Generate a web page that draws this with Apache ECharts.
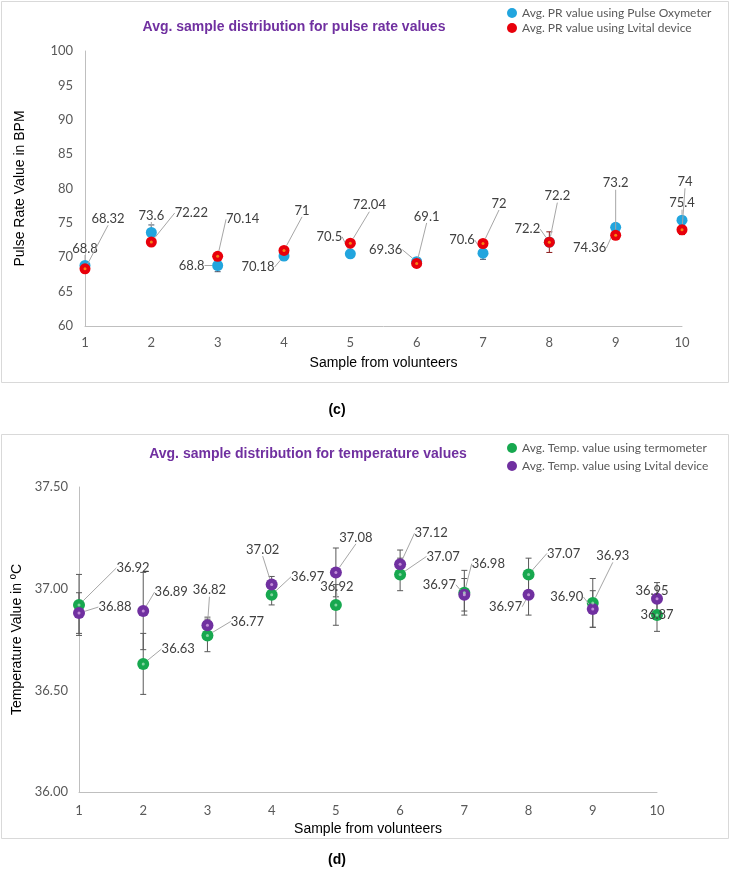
<!DOCTYPE html>
<html><head><meta charset="utf-8">
<script src="https://cdn.jsdelivr.net/npm/echarts@6/dist/echarts.min.js"></script>
<style>html,body{margin:0;padding:0;background:#fff}#c{width:738px;height:873px}</style>
</head><body><div id="c"></div>
<script>
// ---- data ----
const samples = [1,2,3,4,5,6,7,8,9,10];
const prOximeter = [68.8,73.6,68.8,70.18,70.5,69.36,70.6,72.2,74.36,75.4];
const prLvital = [68.32,72.22,70.14,71,72.04,69.1,72,72.2,73.2,74];
const prOximeterErr = [0.5,1.1,0.9,0.6,0.4,0.5,0.9,0.6,0.5,0.5];
const prLvitalErr = [0.3,0.3,0.3,0.5,0.3,0.3,0.4,1.5,0.4,0.7];
const tempThermo = [36.92,36.63,36.77,36.97,36.92,37.07,36.98,37.07,36.93,36.87];
const tempLvital = [36.88,36.89,36.82,37.02,37.08,37.12,36.97,36.97,36.90,36.95];
const tempThermoErr = [0.15,0.15,0.08,0.05,0.10,0.08,0.11,0.08,0.12,0.08];
const tempLvitalErr = [0.10,0.19,0.04,0.04,0.12,0.07,0.08,0.10,0.09,0.08];
const prNames = ['Avg. PR value using Pulse Oxymeter','Avg. PR value using Lvital device'];
const tempNames = ['Avg. Temp. value using termometer','Avg. Temp. value using Lvital device'];

// ---- label offsets (layout only) ----
const prOxOff = [[0,-17],[0,-17],[-26,0],[-26,11],[-21,-17],[-31,-12],[-21,-13],[-22,-13],[-26,21],[0,-17]];
const prLvOff = [[23,-50],[40,-29],[25,-37],[18,-40],[19,-38],[10,-47],[16,-40],[8,-46],[0,-52],[3,-48]];
const tThOff = [[54,-37],[35,-15],[40,-14],[36,-18],[1,-18],[43,-18],[24,-29],[35,-21],[20,-47],[0,0]];
const tLvOff = [[36,-6],[28,-19],[2,-35],[-9,-35],[20,-35],[31,-31],[-25,-10],[-23,12],[-26,-12],[-5,-8]];

const labelFont = 'Lato';
function pts(vals){ return vals.map((v,i)=>[samples[i], v]); }

function scatter(name, xi, vals, color, size, off, fmt, z){
  return {
    name, type:'scatter', xAxisIndex:xi, yAxisIndex:xi, z,
    symbolSize:size, itemStyle:{color, opacity:1},
    data: pts(vals),
    label:{show:true, position:'inside', align:'center', verticalAlign:'middle',
      color:'#404040', fontFamily:labelFont, fontSize:13,
      formatter: p => fmt(p.value[1])},
    labelLine:{show:true, lineStyle:{color:'#A6A6A6', width:1}},
    labelLayout: p => ({dx: off[p.dataIndex][0], dy: off[p.dataIndex][1]}),
    emphasis:{disabled:true}
  };
}
function dots(xi, vals, color, z){
  return {type:'scatter', xAxisIndex:xi, yAxisIndex:xi, z, silent:true,
    symbolSize:3, itemStyle:{color}, data: pts(vals), emphasis:{disabled:true}};
}
function errSeries(xi, vals, errs, color, cap){
  return {type:'custom', xAxisIndex:xi, yAxisIndex:xi, silent:true, z:1,
    data: vals.map((v,i)=>[samples[i], v-errs[i], v+errs[i]]),
    encode:{x:0, y:[1,2]},
    renderItem:(params, api)=>{
      const lo = api.coord([api.value(0), api.value(1)]);
      const hi = api.coord([api.value(0), api.value(2)]);
      const h = cap/2, st = {stroke:color, lineWidth:1};
      return {type:'group', children:[
        {type:'line', shape:{x1:lo[0],y1:lo[1],x2:hi[0],y2:hi[1]}, style:st},
        {type:'line', shape:{x1:lo[0]-h,y1:lo[1],x2:lo[0]+h,y2:lo[1]}, style:st},
        {type:'line', shape:{x1:hi[0]-h,y1:hi[1],x2:hi[0]+h,y2:hi[1]}, style:st}
      ]};
    }};
}
const axisLine = {show:true, lineStyle:{color:'#BFBFBF', width:1}};
const axLabel = {color:'#595959', fontFamily:labelFont, fontSize:13};
function xAxis(gi, margin){
  return {type:'value', gridIndex:gi, min:1, max:10, interval:1,
    axisLine, axisTick:{show:false}, splitLine:{show:false},
    axisLabel:Object.assign({margin}, axLabel),
    name:'Sample from volunteers', nameLocation:'middle', nameGap:30,
    nameTextStyle:{color:'#000', fontFamily:'Liberation Sans', fontSize:14}};
}

const chart = echarts.init(document.getElementById('c'));
chart.setOption({
  animation:false,
  backgroundColor:'#fff',
  grid:[
    {left:85, top:51, right:56, bottom:547},
    {left:79, top:487, right:81, bottom:81}
  ],
  xAxis:[xAxis(0,10), xAxis(1,12)],
  yAxis:[
    {type:'value', gridIndex:0, min:60, max:100, interval:5,
      axisLine, axisTick:{show:false}, splitLine:{show:false},
      axisLabel:Object.assign({margin:12}, axLabel),
      name:'Pulse Rate Value in BPM', nameLocation:'middle', nameGap:58,
      nameTextStyle:{color:'#000', fontFamily:'Liberation Sans', fontSize:14}},
    {type:'value', gridIndex:1, min:36, max:37.5, interval:0.5,
      axisLine, axisTick:{show:false}, splitLine:{show:false},
      axisLabel:Object.assign({margin:11, formatter:v=>v.toFixed(2)}, axLabel),
      name:'Temperature Value in ºC', nameLocation:'middle', nameGap:45,
      nameTextStyle:{color:'#000', fontFamily:'Liberation Sans', fontSize:14}}
  ],
  legend:[
    {data:prNames, left:507, top:7, orient:'vertical', itemGap:3, icon:'circle',
      itemWidth:10, itemHeight:10, padding:0,
      textStyle:{color:'#595959', fontFamily:labelFont, fontSize:12}},
    {data:tempNames, left:507, top:442, orient:'vertical', itemGap:6, icon:'circle',
      itemWidth:10, itemHeight:10, padding:0,
      textStyle:{color:'#595959', fontFamily:labelFont, fontSize:12}}
  ],
  graphic:[
    {type:'rect', shape:{x:1.5, y:1.5, width:727, height:381}, style:{fill:'none', stroke:'#D9D9D9', lineWidth:1}, silent:true},
    {type:'rect', shape:{x:1.5, y:434.5, width:727, height:404}, style:{fill:'none', stroke:'#D9D9D9', lineWidth:1}, silent:true},
    {type:'text', x:294, y:27, style:{text:'Avg. sample distribution for pulse rate values', align:'center', verticalAlign:'middle', font:'bold 14px "Liberation Sans"', fill:'#7030A0'}},
    {type:'text', x:308, y:454, style:{text:'Avg. sample distribution for temperature values', align:'center', verticalAlign:'middle', font:'bold 14px "Liberation Sans"', fill:'#7030A0'}},
    {type:'text', x:337, y:410, style:{text:'(c)', align:'center', verticalAlign:'middle', font:'bold 14px "Liberation Sans"', fill:'#000'}},
    {type:'text', x:337, y:860, style:{text:'(d)', align:'center', verticalAlign:'middle', font:'bold 14px "Liberation Sans"', fill:'#000'}}
  ],
  series:[
    errSeries(0, prOximeter, prOximeterErr, '#44546A', 6),
    errSeries(0, prLvital, prLvitalErr, '#8B1A1A', 6),
    scatter(prNames[0], 0, prOximeter, '#22A5DE', 11, prOxOff, v=>String(v), 3),
    scatter(prNames[1], 0, prLvital, '#E8000B', 11, prLvOff, v=>String(v), 4),
    dots(0, prLvital, '#F6A41C', 5),
    errSeries(1, tempThermo, tempThermoErr, '#595959', 6),
    errSeries(1, tempLvital, tempLvitalErr, '#595959', 6),
    scatter(tempNames[0], 1, tempThermo, '#17A84F', 12, tThOff, v=>v.toFixed(2), 3),
    scatter(tempNames[1], 1, tempLvital, '#7030A0', 12, tLvOff, v=>v.toFixed(2), 4),
    dots(1, tempThermo, '#9FE0B5', 5),
    dots(1, tempLvital, '#D7A6E6', 6)
  ]
});
</script></body></html>
